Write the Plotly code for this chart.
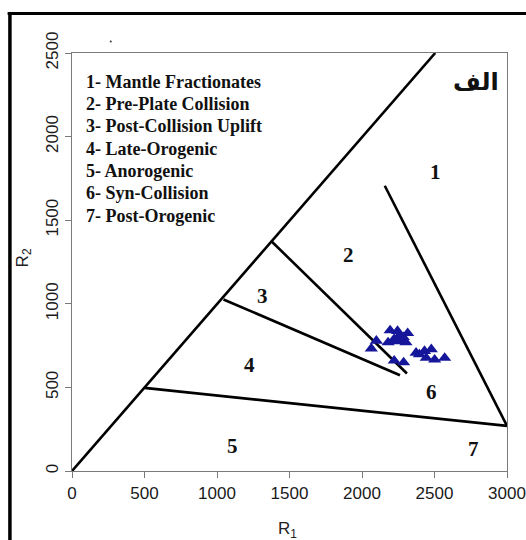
import plotly.graph_objects as go

# ---- data ----
# boundary segments of the R1-R2 diagram (R1, R2 endpoints)
seg_r1 = [[0, 2505], [500, 3000], [1045, 2262], [1379, 2310], [2157, 3000]]
seg_r2 = [[0, 2500], [497, 270], [1026, 573], [1371, 583], [1706, 270]]

# field numbers
field_ids = ["1", "2", "3", "4", "5", "6", "7"]
field_r1 = [2505, 1909, 1312, 1224, 1108, 2482, 2768]
field_r2 = [1789, 1294, 1047, 635, 150, 470, 130]

# key text
key_lines = [
    "1- Mantle Fractionates",
    "2- Pre-Plate Collision",
    "3- Post-Collision Uplift",
    "4- Late-Orogenic",
    "5- Anorogenic",
    "6- Syn-Collision",
    "7- Post-Orogenic",
]

# samples
sample_r1 = [2064, 2099, 2194, 2180, 2245, 2315, 2222, 2269, 2303, 2257,
             2373, 2396, 2431, 2478, 2443, 2501, 2570, 2222, 2287, 2285, 2240]
sample_r2 = [732, 779, 841, 769, 837, 824, 789, 779, 769, 810,
             707, 697, 717, 728, 676, 666, 676, 660, 649, 800, 775]

x_ticks = [0, 500, 1000, 1500, 2000, 2500, 3000]
y_ticks = [0, 500, 1000, 1500, 2000, 2500]

W, H = 526, 540
L, R, T, B = 72.3, 19.3, 53.4, 68.9
PW, PH = W - L - R, H - T - B


def px(xp):
    return (xp - L) / PW


def py(yp):
    return (H - B - yp) / PH


fig = go.Figure()

for sx, sy in zip(seg_r1, seg_r2):
    fig.add_trace(go.Scatter(x=sx, y=sy, mode="lines",
                             line=dict(color="black", width=2.6),
                             hoverinfo="skip", showlegend=False))

fig.add_trace(go.Scatter(x=sample_r1, y=sample_r2, mode="markers",
                         marker=dict(symbol="triangle-up", size=11.5,
                                     color="#16169a", line=dict(width=0)),
                         showlegend=False))

serif = "Liberation Serif, Times New Roman, serif"
annotations = []
for t, xv, yv in zip(field_ids, field_r1, field_r2):
    annotations.append(dict(x=xv, y=yv, xref="x", yref="y", text="<b>" + t + "</b>",
                            xanchor="center", yanchor="middle",
                            showarrow=False, font=dict(family=serif, size=21, color="#111")))

for i, t in enumerate(key_lines):
    annotations.append(dict(x=px(84), y=py(82 + 22.3 * i), xref="paper", yref="paper",
                            text="<b>" + t + "</b>", showarrow=False,
                            xanchor="left", yanchor="middle",
                            font=dict(family=serif, size=18, color="#111")))

annotations.append(dict(x=px(476), y=py(82), xref="paper", yref="paper",
                        text="<b>الف</b>", showarrow=False,
                        xanchor="center", yanchor="middle",
                        font=dict(family="DejaVu Sans", size=24, color="#111")))

sans = "Liberation Sans, Arial, sans-serif"
annotations.append(dict(x=px(288), y=py(530), xref="paper", yref="paper",
                        text="R<sub>1</sub>", showarrow=False,
                        xanchor="center", yanchor="middle",
                        font=dict(family=sans, size=17, color="#222")))
annotations.append(dict(x=px(24), y=py(258), xref="paper", yref="paper",
                        text="R<sub>2</sub>", showarrow=False, textangle=-90,
                        xanchor="center", yanchor="middle",
                        font=dict(family=sans, size=17, color="#222")))

shapes = [
    dict(type="line", xref="paper", yref="paper", x0=px(8), x1=px(530), y0=py(14), y1=py(14),
         line=dict(color="black", width=3)),
    dict(type="line", xref="paper", yref="paper", x0=px(10.3), x1=px(10.3), y0=py(12.5), y1=py(545),
         line=dict(color="black", width=3.5)),
    dict(type="circle", xref="paper", yref="paper", x0=px(110), x1=px(112), y0=py(41), y1=py(43),
         fillcolor="#333", line=dict(width=0)),
]

axis_common = dict(showgrid=False, zeroline=False, showline=True, linecolor="#7a7a7a",
                   linewidth=1.2, mirror=True, ticks="outside", ticklen=6, tickwidth=1,
                   tickcolor="#7a7a7a", automargin=False,
                   tickfont=dict(family=sans, size=17, color="#1a1a1a"))

fig.update_layout(
    width=W, height=H,
    margin=dict(l=L, r=R, t=T, b=B, pad=0, autoexpand=False),
    paper_bgcolor="white", plot_bgcolor="white",
    xaxis=dict(range=[0, 3000], tickvals=x_ticks, **axis_common),
    yaxis=dict(range=[0, 2500], tickvals=y_ticks, tickangle=-90, **axis_common),
    annotations=annotations, shapes=shapes, showlegend=False,
)

fig.write_html("out.html")
